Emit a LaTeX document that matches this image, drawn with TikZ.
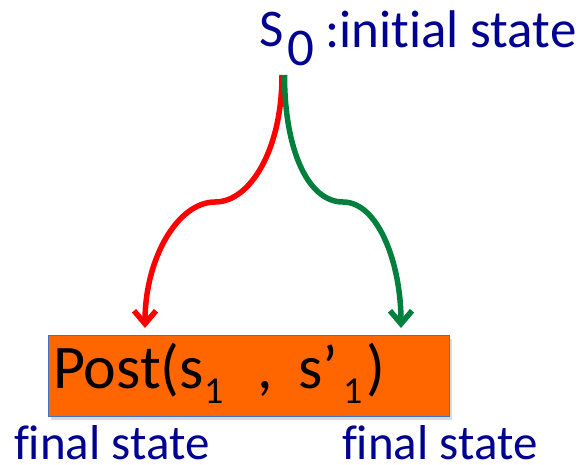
\documentclass[tikz,border=0pt]{standalone}
\usepackage{fontspec}
\setmainfont{Carlito}[Ligatures=NoCommon]
\usetikzlibrary{arrows.meta,shadows,calc}
\definecolor{navy}{RGB}{0,0,145}
\definecolor{boxorange}{RGB}{255,102,0}
\definecolor{boxedge}{RGB}{68,114,196}
\definecolor{redarc}{RGB}{255,0,0}
\definecolor{greenarc}{RGB}{0,128,60}
\tikzset{
  txt/.style={anchor=base west,inner sep=0pt,outer sep=0pt},
  toplab/.style={txt,text=navy,font=\fontsize{53}{60}\selectfont},
  botlab/.style={txt,text=navy,font=\fontsize{49}{54}\selectfont},
  boxtxt/.style={txt,text=black,font=\fontsize{62}{66}\selectfont},
  subtxt/.style={txt,text=black,font=\fontsize{38}{40}\selectfont},
  postbox/.style={draw=boxedge,line width=1.3pt,fill=boxorange,
    drop shadow={opacity=0.3,shadow xshift=2pt,shadow yshift=-3pt}},
  arc/.style={line width=5.5pt,-{Straight Barb[length=13pt,width=22pt]}}
}
\begin{document}
\begin{tikzpicture}[x=1pt,y=-1pt]
\useasboundingbox (0,0) rectangle (583,465);
% box
\node[postbox,minimum width=401pt,minimum height=81pt,anchor=north west,inner sep=0pt] (box) at (48,335) {};
% top label
\node[toplab] (s) at (259,47) {S};
\node[toplab] (s0sub) at (287,66) {0};
\node[toplab] (init) at (325,48) {:initial state};
% box text
\node[boxtxt] (post) at (53,388) {Post(s};
\node[subtxt] (sub1) at (204,403) {1};
\node[boxtxt] (comma) at (257,388) {,};
\node[boxtxt] (sp) at (298,388) {s’};
\node[subtxt] (sub2) at (343,403) {1};
\node[boxtxt] (rpar) at (366,388) {)};
% bottom labels
\node[botlab] (finl) at (14,459) {final state};
\node[botlab] (finr) at (342,459) {final state};
% connectors
\coordinate (start) at (283,75);
\coordinate (rtip) at (145,328);
\coordinate (gtip) at (401,328);
\draw[arc,draw=redarc] ([xshift=-1pt]start) .. controls +(0,75) and (250,202) .. (215,202)
  .. controls (178,202) and ($(rtip)+(0,-70)$) .. (rtip);
\draw[arc,draw=greenarc] ([xshift=1.5pt]start) .. controls +(0,75) and (308,202) .. (343,202)
  .. controls (378,202) and ($(gtip)+(0,-65)$) .. (gtip);
\end{tikzpicture}
\end{document}
